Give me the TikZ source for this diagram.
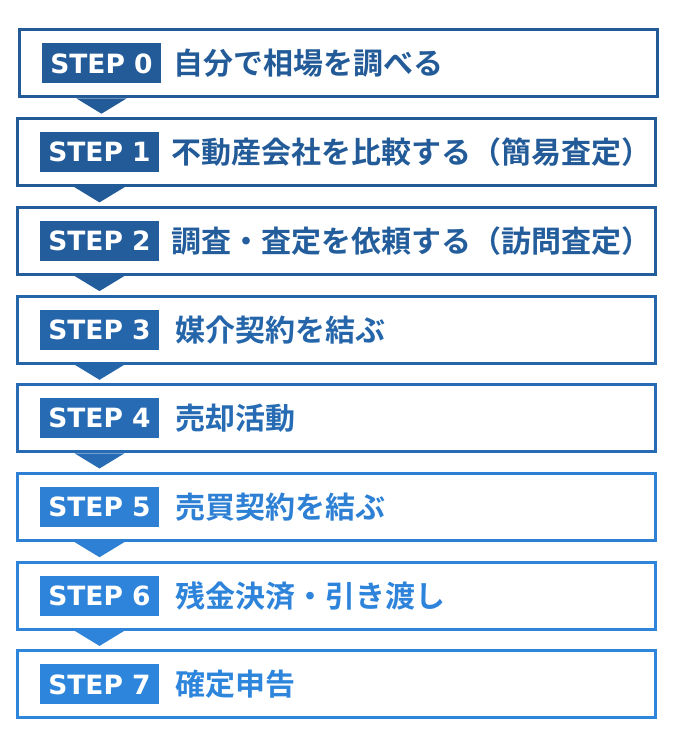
\documentclass[tikz,border=0pt]{standalone}
\usepackage{fontspec}
\setmainfont{DejaVu Sans}
\newfontfamily\jpfont{Noto Sans CJK JP}[BoldFont={Noto Sans CJK JP Bold}]
\usetikzlibrary{calc}
\definecolor{c0}{HTML}{225B98}
\definecolor{c1}{HTML}{225B98}
\definecolor{c2}{HTML}{235D9C}
\definecolor{c3}{HTML}{2565AA}
\definecolor{c4}{HTML}{266BB3}
\definecolor{c5}{HTML}{2D80D4}
\definecolor{c6}{HTML}{2E84DA}
\definecolor{c7}{HTML}{2E86DC}
\tikzset{
  stepbox/.style={draw=#1, line width=3pt, fill=white, minimum width=638pt, minimum height=67pt, anchor=north west, inner sep=0pt},
  steplabel/.style={fill=#1, text=white, minimum width=119pt, minimum height=40pt, inner sep=0pt, font=\fontsize{26.5}{26.5}\bfseries\selectfont},
  steptext/.style={text=#1, anchor=west, inner sep=0pt, font=\jpfont\fontsize{30}{30}\bfseries\selectfont},
  tri/.style={fill=#1}
}
\begin{document}
\begin{tikzpicture}[x=1pt,y=-1pt]
\fill[white] (0,0) rectangle (672,746);
\useasboundingbox (0,0) rectangle (672,746);
% boxes
\node[stepbox=c0] (b0) at (17.5,28.5) {};
\node[stepbox=c1] (b1) at (15.5,117.2) {};
\node[stepbox=c2] (b2) at (15.5,205.9) {};
\node[stepbox=c3] (b3) at (15.5,294.6) {};
\node[stepbox=c4] (b4) at (15.5,383.3) {};
\node[stepbox=c5] (b5) at (15.5,472.0) {};
\node[stepbox=c6] (b6) at (15.5,560.7) {};
\node[stepbox=c7] (b7) at (15.5,649.4) {};
% labels
\node[steplabel=c0] (l0) at ($(b0.west)+(84,0)$) {STEP 0};
\node[steplabel=c1] (l1) at ($(b1.west)+(84,0)$) {STEP 1};
\node[steplabel=c2] (l2) at ($(b2.west)+(84,0)$) {STEP 2};
\node[steplabel=c3] (l3) at ($(b3.west)+(84,0)$) {STEP 3};
\node[steplabel=c4] (l4) at ($(b4.west)+(84,0)$) {STEP 4};
\node[steplabel=c5] (l5) at ($(b5.west)+(84,0)$) {STEP 5};
\node[steplabel=c6] (l6) at ($(b6.west)+(84,0)$) {STEP 6};
\node[steplabel=c7] (l7) at ($(b7.west)+(84,0)$) {STEP 7};
% texts
\node[steptext=c0] (t0) at ($(b0.west)+(156,0)$) {自分で相場を調べる};
\node[steptext=c1] (t1) at ($(b1.west)+(156,0)$) {不動産会社を比較する（簡易査定）};
\node[steptext=c2] (t2) at ($(b2.west)+(156,0)$) {調査・査定を依頼する（訪問査定）};
\node[steptext=c3] (t3) at ($(b3.west)+(160,0)$) {媒介契約を結ぶ};
\node[steptext=c4] (t4) at ($(b4.west)+(160,0)$) {売却活動};
\node[steptext=c5] (t5) at ($(b5.west)+(160,0)$) {売買契約を結ぶ};
\node[steptext=c6] (t6) at ($(b6.west)+(160,0)$) {残金決済・引き渡し};
\node[steptext=c7] (t7) at ($(b7.west)+(160,0)$) {確定申告};
% connectors (triangles)
\fill[tri=c0] ($(l0.center |- b0.south)+(-25,0)$) -- ($(l0.center |- b0.south)+(25,0)$) -- ($(l0.center |- b1.north)+(0,-3.5)$) -- cycle;
\fill[tri=c1] ($(l1.center |- b1.south)+(-25,0)$) -- ($(l1.center |- b1.south)+(25,0)$) -- ($(l1.center |- b2.north)+(0,-3.5)$) -- cycle;
\fill[tri=c2] ($(l2.center |- b2.south)+(-25,0)$) -- ($(l2.center |- b2.south)+(25,0)$) -- ($(l2.center |- b3.north)+(0,-3.5)$) -- cycle;
\fill[tri=c3] ($(l3.center |- b3.south)+(-25,0)$) -- ($(l3.center |- b3.south)+(25,0)$) -- ($(l3.center |- b4.north)+(0,-3.5)$) -- cycle;
\fill[tri=c4] ($(l4.center |- b4.south)+(-25,0)$) -- ($(l4.center |- b4.south)+(25,0)$) -- ($(l4.center |- b5.north)+(0,-3.5)$) -- cycle;
\fill[tri=c5] ($(l5.center |- b5.south)+(-25,0)$) -- ($(l5.center |- b5.south)+(25,0)$) -- ($(l5.center |- b6.north)+(0,-3.5)$) -- cycle;
\fill[tri=c6] ($(l6.center |- b6.south)+(-25,0)$) -- ($(l6.center |- b6.south)+(25,0)$) -- ($(l6.center |- b7.north)+(0,-3.5)$) -- cycle;
\end{tikzpicture}
\end{document}
